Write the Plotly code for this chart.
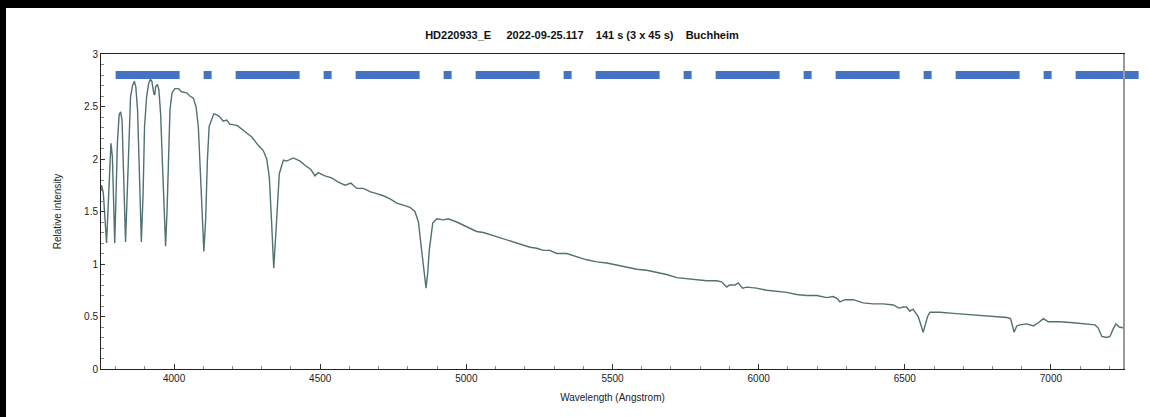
import plotly.graph_objects as go

# ---- data ----
wavelength = [3750, 3752, 3758, 3764, 3769, 3775, 3781, 3784, 3789, 3792, 3797, 3801, 3806, 3812, 3817,
              3822, 3826, 3831, 3834, 3839, 3845, 3851, 3858, 3864, 3869, 3875, 3881, 3888, 3894, 3899,
              3906, 3913, 3919, 3924, 3931, 3934, 3937, 3943, 3948, 3954, 3961, 3967, 3971, 3976, 3981,
              3986, 3993, 4003, 4015, 4026, 4043, 4054, 4066, 4075, 4083, 4091, 4097, 4102, 4108, 4114,
              4120, 4126, 4136, 4146, 4157, 4168, 4180, 4191, 4197, 4214, 4220, 4243, 4266, 4288, 4305,
              4317, 4326, 4334, 4341, 4351, 4360, 4374, 4385, 4408, 4431, 4448, 4468, 4482, 4493, 4516,
              4539, 4562, 4585, 4605, 4625, 4648, 4670, 4693, 4716, 4739, 4762, 4784, 4807, 4824, 4836,
              4847, 4855, 4862, 4868, 4873, 4885, 4899, 4921, 4938, 4967, 4990, 5012, 5035, 5058, 5081,
              5104, 5126, 5149, 5172, 5195, 5218, 5241, 5263, 5286, 5309, 5343, 5378, 5412, 5446, 5480,
              5514, 5549, 5583, 5617, 5651, 5685, 5720, 5754, 5788, 5822, 5856, 5873, 5891, 5900, 5908,
              5919, 5930, 5945, 5959, 5993, 6028, 6062, 6096, 6130, 6164, 6199, 6233, 6255, 6269, 6278,
              6295, 6324, 6358, 6392, 6427, 6461, 6480, 6495, 6506, 6517, 6528, 6546, 6556, 6563, 6570,
              6578, 6586, 6594, 6620, 6666, 6712, 6757, 6803, 6849, 6862, 6868, 6874, 6883, 6894, 6917,
              6940, 6957, 6974, 6991, 7031, 7077, 7122, 7151, 7162, 7174, 7191, 7202, 7211, 7222, 7234,
              7250]
intensity = [1.70, 1.75, 1.67, 1.45, 1.20, 1.58, 2.05, 2.15, 2.02, 1.67, 1.20, 1.61, 2.15, 2.42, 2.45,
             2.37, 1.99, 1.51, 1.21, 1.61, 2.21, 2.59, 2.70, 2.74, 2.69, 2.47, 1.90, 1.21, 1.67, 2.31,
             2.59, 2.72, 2.76, 2.74, 2.62, 2.61, 2.69, 2.71, 2.66, 2.43, 1.90, 1.42, 1.17, 1.51, 2.15,
             2.47, 2.63, 2.67, 2.67, 2.64, 2.63, 2.60, 2.58, 2.50, 2.31, 1.83, 1.36, 1.12, 1.42, 1.99,
             2.31, 2.36, 2.43, 2.42, 2.40, 2.36, 2.37, 2.33, 2.33, 2.32, 2.31, 2.26, 2.21, 2.13, 2.08,
             2.00, 1.82, 1.38, 0.96, 1.42, 1.86, 1.99, 1.98, 2.01, 1.98, 1.94, 1.90, 1.84, 1.87, 1.84,
             1.82, 1.78, 1.75, 1.77, 1.72, 1.72, 1.69, 1.67, 1.65, 1.62, 1.58, 1.56, 1.54, 1.50, 1.40,
             1.13, 0.90, 0.77, 0.92, 1.13, 1.39, 1.43, 1.42, 1.43, 1.40, 1.37, 1.34, 1.31, 1.30, 1.28,
             1.26, 1.24, 1.22, 1.20, 1.18, 1.16, 1.15, 1.13, 1.13, 1.10, 1.10, 1.07, 1.04, 1.02, 1.01,
             0.99, 0.97, 0.95, 0.94, 0.92, 0.90, 0.87, 0.86, 0.85, 0.84, 0.84, 0.83, 0.78, 0.80, 0.80,
             0.80, 0.82, 0.77, 0.78, 0.77, 0.75, 0.74, 0.73, 0.71, 0.70, 0.70, 0.68, 0.69, 0.67, 0.64,
             0.66, 0.66, 0.63, 0.62, 0.62, 0.61, 0.58, 0.59, 0.59, 0.55, 0.57, 0.50, 0.42, 0.35, 0.42,
             0.50, 0.54, 0.54, 0.54, 0.53, 0.52, 0.51, 0.50, 0.49, 0.48, 0.40, 0.35, 0.41, 0.42, 0.43,
             0.41, 0.44, 0.48, 0.45, 0.45, 0.44, 0.43, 0.42, 0.39, 0.31, 0.30, 0.31, 0.37, 0.43, 0.40,
             0.39]

marker_start, marker_end, marker_level = 3800, 7300, 2.8

x_range = [3750, 7250]
y_range = [0, 3]
x_ticks = [4000, 4500, 5000, 5500, 6000, 6500, 7000]
y_ticks = [0, 0.5, 1, 1.5, 2, 2.5, 3]
y_ticklabels = ["0", "0.5", "1", "1.5", "2", "2.5", "3"]

SP = "\u00a0"
title_text = ("HD220933_E" + SP * 5 + "2022-09-25.117" + SP * 4 + "141 s (3 x 45 s)" + SP * 4 + "Buchheim")

FONT = "Liberation Sans, Arial, sans-serif"
FIG_W, FIG_H = 1144, 409   # page shows a black frame: 6 px on the left, 8 px on top

fig = go.Figure()
fig.add_trace(go.Scatter(x=wavelength, y=intensity, mode="lines",
                         line=dict(color="#527171", width=1.4), showlegend=False,
                         hoverinfo="x+y"))

def to_paper(v):
    return (v - x_range[0]) / (x_range[1] - x_range[0])

shapes = [
    # blue dash-dot band (extends past the plot edge as in the reference)
    dict(type="line", xref="paper", yref="y", x0=to_paper(marker_start), x1=to_paper(marker_end),
         y0=marker_level, y1=marker_level,
         line=dict(color="#4472c4", width=8, dash="64px,24px,8px,24px"), layer="above"),
    # right border in grey
    dict(type="line", xref="paper", yref="paper", x0=1, x1=1, y0=0, y1=1,
         line=dict(color="#9a9a9a", width=2), layer="above"),
]

fig.update_layout(
    width=FIG_W, height=FIG_H,
    margin=dict(l=95, r=26, t=46, b=48),
    paper_bgcolor="white", plot_bgcolor="white",
    font=dict(family=FONT, size=10, color="#222222"),
    title=dict(text="<b>" + title_text + "</b>", x=576 / FIG_W, xref="container", xanchor="center",
               y=1 - 27 / FIG_H, yref="container", yanchor="middle",
               font=dict(family=FONT, size=11, color="#111111")),
    shapes=shapes,
    xaxis=dict(range=x_range, tickvals=x_ticks, ticks="inside", ticklen=5, tickcolor="#333333",
               showline=True, linecolor="#222222", linewidth=1, mirror=True, showgrid=False,
               zeroline=False, tickfont=dict(size=10),
               minor=dict(dtick=100, ticks="inside", ticklen=3, tickcolor="#888888", showgrid=False),
               title=dict(text="Wavelength (Angstrom)", standoff=10, font=dict(size=10))),
    yaxis=dict(range=y_range, tickvals=y_ticks, ticktext=y_ticklabels, ticks="inside", ticklen=4,
               tickcolor="#333333", showline=True, linecolor="#222222", linewidth=1, mirror=True,
               showgrid=False, zeroline=False, tickfont=dict(size=10),
               minor=dict(dtick=0.1, ticks="inside", ticklen=3, tickcolor="#888888", showgrid=False),
               title=dict(text="Relative intensity", standoff=20, font=dict(size=10))),
)

fig.write_html("out.html", config={"displayModeBar": False},
               post_script="document.body.style.margin='8px 0 0 6px';"
                           "document.body.style.background='black';"
                           "document.body.style.overflow='hidden';")
